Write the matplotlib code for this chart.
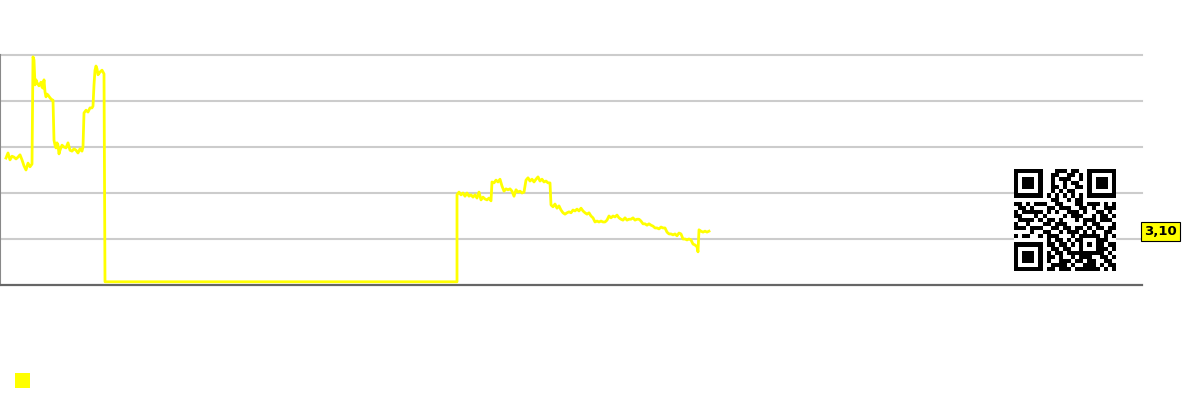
import numpy as np
import matplotlib
matplotlib.use("Agg")
import matplotlib.pyplot as plt
from matplotlib.patches import Rectangle

# series (x = time index, value in gridline units)
x_vals = [6, 8, 10, 12, 14, 16, 18, 20, 22, 24, 26, 28, 30, 32,
          33, 34, 35, 36, 37, 39, 41, 42, 43, 44, 45, 46, 47, 48, 50, 52, 53,
          54, 55, 56, 57, 58, 59, 60, 62, 64, 66, 68, 70, 72, 74, 76, 78, 80, 82, 83,
          84, 86, 88, 90, 92, 93, 94, 95, 96, 97, 98, 100, 102, 104,
          105, 457,
          457, 459, 461, 463, 465, 467, 469, 471, 473, 475, 477, 479, 481, 483, 485, 487, 489, 491,
          492, 494, 496, 498, 500, 502, 504, 506, 508, 510, 512, 514, 516, 518, 520, 522, 524,
          526, 528, 530, 532, 534, 536, 538, 540, 542, 544, 546, 548, 550,
          551, 553, 555, 557, 559, 561, 563, 565, 567, 569, 571, 573, 575, 577, 579, 581, 583,
          585, 587, 589, 591, 593, 595, 597, 599, 601, 603, 605, 607,
          609, 611, 613, 615, 617, 619, 621, 623, 625, 627, 629, 631, 633, 635, 637, 639, 641,
          643, 645, 647, 649, 651, 653, 655, 657, 659, 661, 663, 665,
          667, 669, 671, 673, 675, 677, 679, 681, 683, 685, 687, 689, 691, 693, 695, 697, 698,
          699, 701, 703, 705, 707, 709]
y_vals = [2.76, 2.87, 2.72, 2.80, 2.78, 2.74, 2.78, 2.83, 2.72, 2.59, 2.50, 2.65, 2.57, 2.63,
          4.96, 4.89, 4.35, 4.46, 4.40, 4.33, 4.41, 4.30, 4.28, 4.46, 4.20, 4.09, 4.15, 4.13, 4.07, 4.02, 4.02,
          3.15, 3.04, 2.98, 3.09, 3.04, 2.85, 2.93, 3.04, 3.00, 2.98, 3.09, 2.93, 2.91, 2.96, 2.93, 2.87, 2.96, 2.91, 3.00,
          3.74, 3.80, 3.76, 3.85, 3.85, 3.89, 4.35, 4.67, 4.76, 4.70, 4.57, 4.63, 4.67, 4.59,
          0.07, 0.07,
          1.96, 2.02, 1.96, 2.00, 1.93, 2.00, 1.93, 1.96, 1.91, 1.96, 1.89, 2.02, 1.85, 1.91, 1.87, 1.85, 1.89, 1.83,
          2.24, 2.22, 2.28, 2.24, 2.30, 2.15, 2.04, 2.09, 2.07, 2.09, 2.04, 1.93, 2.07, 2.02, 2.04, 2.00, 2.02,
          2.28, 2.33, 2.26, 2.30, 2.24, 2.30, 2.35, 2.26, 2.30, 2.24, 2.26, 2.22, 2.22,
          1.74, 1.70, 1.76, 1.67, 1.72, 1.63, 1.57, 1.54, 1.57, 1.59, 1.57, 1.63, 1.61, 1.65, 1.61, 1.67, 1.61,
          1.57, 1.54, 1.57, 1.50, 1.46, 1.37, 1.39, 1.37, 1.39, 1.37, 1.37, 1.41,
          1.50, 1.46, 1.50, 1.48, 1.52, 1.46, 1.43, 1.41, 1.46, 1.41, 1.43, 1.43, 1.46, 1.41, 1.43, 1.43, 1.39,
          1.33, 1.33, 1.30, 1.33, 1.30, 1.28, 1.24, 1.24, 1.22, 1.26, 1.24, 1.24,
          1.15, 1.11, 1.11, 1.09, 1.11, 1.07, 1.13, 1.11, 1.00, 1.00, 0.98, 1.00, 0.98, 0.89, 0.87, 0.83, 0.72,
          1.20, 1.17, 1.15, 1.17, 1.15, 1.17]
last_label = "3,10"
grid_levels = [0, 1, 2, 3, 4, 5]

# rough QR body (finder/timing/alignment patterns are stamped on top)
qr_rows = [
    "0000000000111011010000000",
    "0000000001100110100000000",
    "0000000001011100110000000",
    "0000000001001011000000000",
    "0000000001101001100000000",
    "0000000001010110010000000",
    "0000000000000000000000000",
    "0000000001100101100000000",
    "1101011100110001101110101",
    "0110100011011100110100111",
    "1011111010100111010011010",
    "1100010100001011100101101",
    "0111101011010001011101110",
    "1001000110111000010110001",
    "1110111001101101101011011",
    "0000100110010111010100110",
    "1011001011100010111110101",
    "0000000010110101100011100",
    "0000000011011010101101011",
    "0000000001101100100011101",
    "0000000010110111011111010",
    "0000000011010010111001101",
    "0000000010011101101100110",
    "0000000001111010011101011",
    "0000000011011101111110101",
]

qr = np.array([[int(c) for c in r.ljust(25, "0")[:25]] for r in qr_rows[:25]])

def finder(g, r0, c0):
    for i in range(-1, 8):
        for j in range(-1, 8):
            r, c = r0 + i, c0 + j
            if 0 <= r < 25 and 0 <= c < 25:
                g[r, c] = 0
    g[r0:r0 + 7, c0:c0 + 7] = 1
    g[r0 + 1:r0 + 6, c0 + 1:c0 + 6] = 0
    g[r0 + 2:r0 + 5, c0 + 2:c0 + 5] = 1

finder(qr, 0, 0)
finder(qr, 0, 18)
finder(qr, 18, 0)
for k in range(8, 17):
    qr[6, k] = 1 - k % 2
    qr[k, 6] = 1 - k % 2
qr[16:21, 16:21] = 1
qr[17:20, 17:20] = 0
qr[18, 18] = 1

fig = plt.figure(figsize=(12, 4), dpi=100)
ax = fig.add_axes([0.0, 0.2875, 1142 / 1200, 230 / 400])

for g in grid_levels[1:]:
    ax.axhline(g, color="#cccccc", lw=1.5, zorder=1, clip_on=False)

ax.plot(x_vals, y_vals, color="#ffff00", lw=2.0, zorder=3, clip_on=False)

ax.set_xlim(0, 1142)
ax.set_ylim(0, 5)
ax.set_xticks([])
ax.set_yticks([])
for s in ["top", "right"]:
    ax.spines[s].set_visible(False)
ax.spines["bottom"].set_color("#666666")
ax.spines["bottom"].set_linewidth(1.6)
ax.spines["left"].set_color("#888888")
ax.spines["left"].set_linewidth(1.5)

ax.annotate(last_label, xy=(1.0, y_vals[-1]), xycoords=("axes fraction", "data"),
            xytext=(13.5, 0), textcoords="offset points", ha="center", va="center",
            fontsize=9.5, fontweight="bold", color="black", annotation_clip=False,
            bbox=dict(boxstyle="square,pad=0.22", facecolor="#ffff00", edgecolor="black", lw=0.8))

# QR code
qax = fig.add_axes([1014 / 1200, 1 - 271 / 400, 102 / 1200, 102 / 400])
qax.imshow(qr, cmap="gray_r", interpolation="nearest", vmin=0, vmax=1)
qax.axis("off")

# legend marker without text
fig.patches.append(Rectangle((15 / 1200, 1 - 388 / 400), 15 / 1200, 15 / 400,
                             transform=fig.transFigure, facecolor="#ffff00", edgecolor="none"))

fig.savefig("out.png", dpi=100)
